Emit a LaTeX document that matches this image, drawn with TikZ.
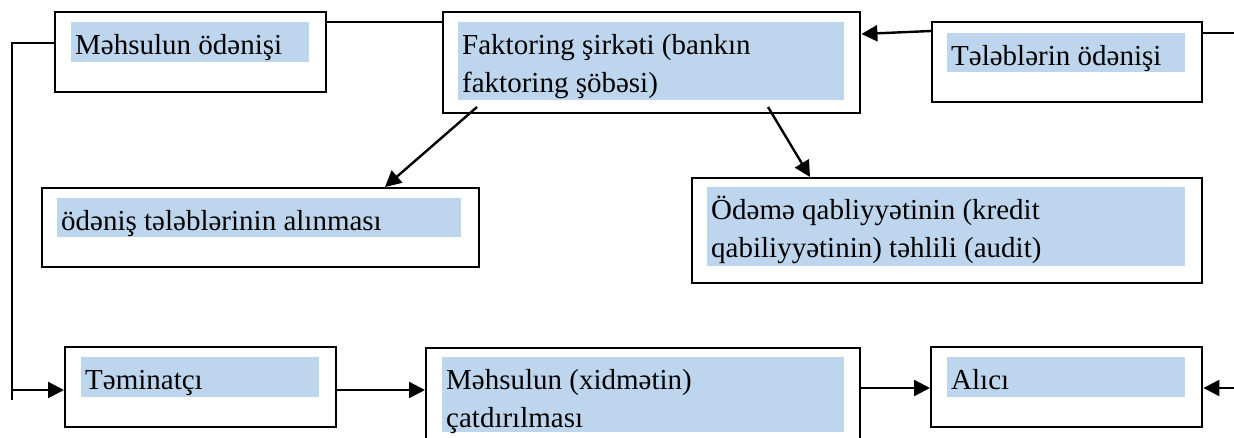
\documentclass[tikz,border=0pt]{standalone}
\usepackage{fontspec}
\setmainfont{Liberation Serif}
\usetikzlibrary{arrows.meta}
\definecolor{hlblue}{RGB}{189,214,238}
\tikzset{
  frame/.style={draw=black, line width=2.4pt, fill=white, rectangle, inner sep=0pt, anchor=north west},
  hl/.style={fill=hlblue, draw=none, rectangle, inner sep=0pt, anchor=north west},
  lbl/.style={inner sep=0pt, anchor=base west, font=\fontsize{29pt}{38pt}\selectfont},
  link/.style={line width=2.4pt},
  arr/.style={link, -{Triangle[length=16pt,width=16pt]}},
}
\newcommand{\twolines}[2]{\vtop{\baselineskip=38pt\hbox{#1}\hbox{#2}}}
\begin{document}
\begin{tikzpicture}[x=1pt,y=-1pt]
  \useasboundingbox (0,0) rectangle (1234,437);
  \clip (0,0) rectangle (1234,437);

  % frames
  \node[frame, minimum width=271pt, minimum height=80pt]  (pay) at (54,11)  {};
  \node[frame, minimum width=417pt, minimum height=101pt] (fac) at (442,11) {};
  \node[frame, minimum width=270pt, minimum height=80pt]  (req) at (931,21) {};
  \node[frame, minimum width=437pt, minimum height=79pt]  (rcv) at (41,187) {};
  \node[frame, minimum width=510pt, minimum height=105pt] (aud) at (691,177) {};
  \node[frame, minimum width=271pt, minimum height=80pt]  (sup) at (64,346) {};
  \node[frame, minimum width=434pt, minimum height=113pt] (dlv) at (425,347) {};
  \node[frame, minimum width=271pt, minimum height=80pt]  (buy) at (930,346) {};

  % highlighted text bands
  \node[hl, minimum width=238pt, minimum height=40pt] (payhl) at (71,22)   {};
  \node[hl, minimum width=386pt, minimum height=78pt] (fachl) at (458,22)  {};
  \node[hl, minimum width=238pt, minimum height=39pt] (reqhl) at (947,33)  {};
  \node[hl, minimum width=404pt, minimum height=39pt] (rcvhl) at (57,198)  {};
  \node[hl, minimum width=478pt, minimum height=79pt] (audhl) at (707,187) {};
  \node[hl, minimum width=238pt, minimum height=40pt] (suphl) at (81,357)  {};
  \node[hl, minimum width=402pt, minimum height=75pt] (dlvhl) at (442,357) {};
  \node[hl, minimum width=238pt, minimum height=40pt] (buyhl) at (947,357) {};

  % labels
  \node[lbl] (paytx) at (75,54)  {Məhsulun ödənişi};
  \node[lbl] (factx) at (462,54) {\twolines{Faktoring şirkəti (bankın}{faktoring şöbəsi)}};
  \node[lbl] (reqtx) at (951,65) {Tələblərin ödənişi};
  \node[lbl] (rcvtx) at (61,230) {ödəniş tələblərinin alınması};
  \node[lbl] (audtx) at (711,219) {\twolines{Ödəmə qabliyyətinin (kredit}{qabiliyyətinin) təhlili (audit)}};
  \node[lbl] (suptx) at (85,389) {Təminatçı};
  \node[lbl] (dlvtx) at (446,389) {\twolines{Məhsulun (xidmətin)}{çatdırılması}};
  \node[lbl] (buytx) at (951,389) {Alıcı};

  % connectors
  \coordinate (cornerTL) at (12,43);
  \coordinate (stub) at (12,400);
  \coordinate (feed) at (12,390);
  \coordinate (eastend) at (1234,33);
  \coordinate (westend) at (1234,388);
  \coordinate (fromA) at (477,107);
  \coordinate (fromB) at (768,107);

  \draw[link] (pay.west |- cornerTL) -- (cornerTL) -- (stub);
  \draw[arr] (feed) -- (sup.west |- feed);
  \draw[link] (pay.east |- 0,22) -- (fac.west |- 0,22);
  \draw[arr] (req.west |- 0,31) -- (fac.east |- 0,34);
  \draw[link] (req.east |- eastend) -- (eastend);
  \draw[arr] (fromA) -- (385,0 |- rcv.north);
  \draw[arr] (fromB) -- (810,0 |- aud.north);
  \draw[arr] (sup.east |- 0,390) -- (dlv.west |- 0,390);
  \draw[arr] (dlv.east |- 0,388) -- (buy.west |- 0,388);
  \draw[arr] (westend) -- (buy.east |- westend);
\end{tikzpicture}
\end{document}
